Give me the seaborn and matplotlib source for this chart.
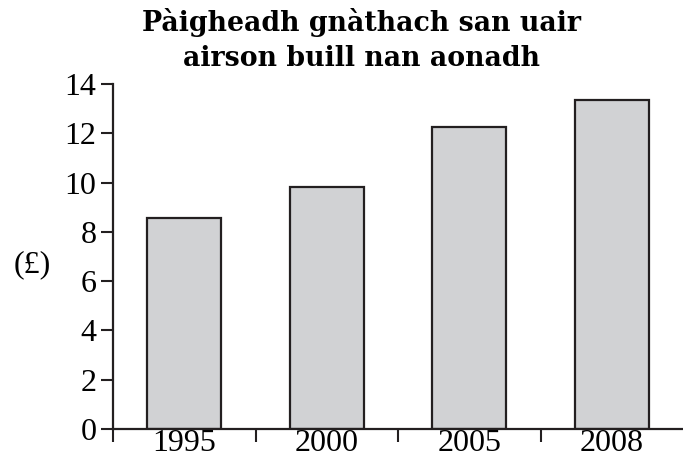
import matplotlib
matplotlib.use("Agg")
import matplotlib.pyplot as plt
import seaborn as sns
import pandas as pd
import numpy as np

years = ["1995", "2000", "2005", "2008"]
values = [8.57, 9.83, 12.27, 13.37]
yticks = [0, 2, 4, 6, 8, 10, 12, 14]
title = "Pàigheadh gnàthach san uair\nairson buill nan aonadh"
ylabel = "(£)"

sns.set_theme(style="white")
plt.rcParams['font.family'] = ['Liberation Serif', 'DejaVu Serif']
plt.rcParams['text.color'] = 'black'
plt.rcParams['xtick.color'] = 'black'
plt.rcParams['ytick.color'] = 'black'

df = pd.DataFrame({"year": years, "value": values})

fig = plt.figure(figsize=(6.83, 4.59), dpi=100)
ax = fig.add_axes([113/683, 1 - 429/459, 1 - 113/683, (429 - 84)/459])

sns.barplot(data=df, x="year", y="value", ax=ax, color="#d1d2d4",
            edgecolor="#231f20", linewidth=1.6, width=0.52, saturation=1)

ax.set_xlim(-0.5, 3.5)
ax.set_ylim(0, 14)
ax.set_yticks(yticks)
ax.set_yticklabels([str(t) for t in yticks], fontsize=23)
ax.set_xticks(range(len(years)))
ax.set_xticklabels(years, fontsize=23)
ax.tick_params(axis='x', which='major', length=0, pad=0)
ax.set_xticks([-0.5, 0.5, 1.5, 2.5], minor=True)
ax.tick_params(axis='x', which='minor', length=9, width=1.5, color="#231f20", direction='out', bottom=True)
ax.tick_params(axis='y', which='major', length=9, width=1.5, color="#231f20", direction='out', left=True, pad=3)

for s in ["top", "right"]:
    ax.spines[s].set_visible(False)
for s in ["left", "bottom"]:
    ax.spines[s].set_color("#231f20")
    ax.spines[s].set_linewidth(1.6)

ax.set_xlabel("")
ax.set_ylabel("")
fig.text(32/683, 1 - 265/459, ylabel, fontsize=23, ha="center", va="center")
fig.text(361/683, 1 - 40/459, title, fontsize=19.3, fontweight="bold",
         family=["DejaVu Serif"], ha="center", va="center", linespacing=1.35)

fig.savefig("out.png", dpi=100)
